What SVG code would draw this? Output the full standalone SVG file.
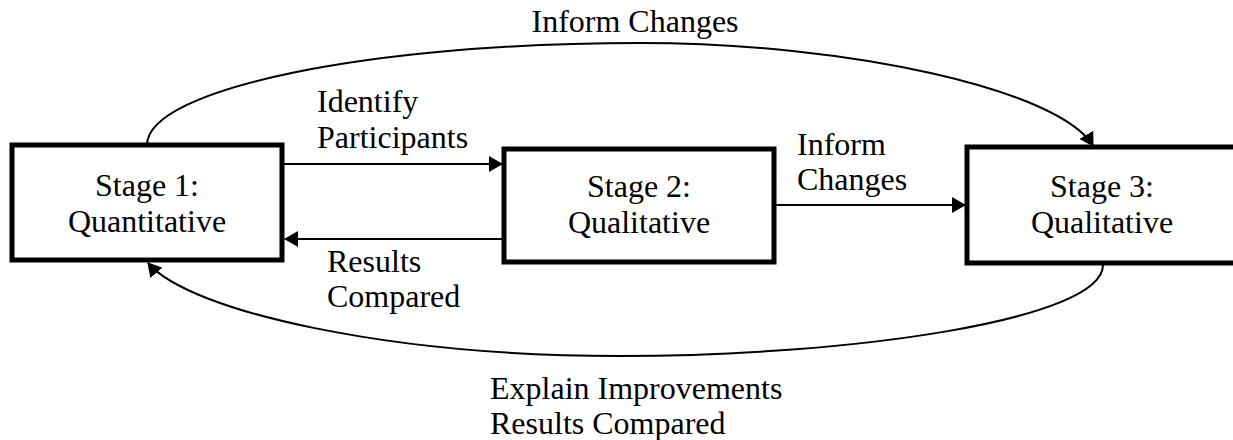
<svg xmlns="http://www.w3.org/2000/svg" width="1233" height="440" viewBox="0 0 1233 440">
  <style>
    .box { fill: #fff; stroke: #000; stroke-width: 5; }
    .conn { fill: none; stroke: #000; stroke-width: 2; }
    .lbl { font-family: "Liberation Serif", "Times New Roman", serif; font-size: 32px; fill: #000; }
    .mid { text-anchor: middle; }
  </style>
  <defs>
    <marker id="arrow" markerWidth="14" markerHeight="16" refX="13" refY="8" orient="auto" markerUnits="userSpaceOnUse">
      <path d="M0,0 L14,8 L0,16 Z" fill="#000"/>
    </marker>
  </defs>
  <rect width="1233" height="440" fill="#fff"/>

  <g id="connectors">
    <!-- Stage 1 -> Stage 2 -->
    <path class="conn" d="M284,164 H502" marker-end="url(#arrow)"/>
    <!-- Stage 2 -> Stage 1 -->
    <path class="conn" d="M502,239 H285" marker-end="url(#arrow)"/>
    <!-- Stage 2 -> Stage 3 -->
    <path class="conn" d="M776,205 H965" marker-end="url(#arrow)"/>
    <!-- Stage 1 -> Stage 3 over the top -->
    <path class="conn" d="M147,145 C147,89 368,43 640,43 C850,43 1060,90 1093,146" marker-end="url(#arrow)"/>
    <!-- Stage 3 -> Stage 1 underneath -->
    <path class="conn" d="M1103,265 C1103,320 850,356 620,356 C390,356 190,312 148,263" marker-end="url(#arrow)"/>
  </g>

  <g id="stage1">
    <rect class="box" x="12" y="145" width="270" height="115"/>
    <text class="lbl mid" x="147" y="196">Stage 1:</text>
    <text class="lbl mid" x="147" y="232">Quantitative</text>
  </g>

  <g id="stage2">
    <rect class="box" x="504" y="149" width="270" height="113"/>
    <text class="lbl mid" x="639" y="197">Stage 2:</text>
    <text class="lbl mid" x="639" y="233">Qualitative</text>
  </g>

  <g id="stage3">
    <rect class="box" x="967" y="147" width="272" height="116"/>
    <text class="lbl mid" x="1102" y="197">Stage 3:</text>
    <text class="lbl mid" x="1102" y="233">Qualitative</text>
  </g>

  <g id="labels">
    <text class="lbl mid" x="635" y="32">Inform Changes</text>
    <text class="lbl" x="317" y="112">Identify</text>
    <text class="lbl" x="317" y="148">Participants</text>
    <text class="lbl" x="797" y="155">Inform</text>
    <text class="lbl" x="797" y="190">Changes</text>
    <text class="lbl" x="327" y="272">Results</text>
    <text class="lbl" x="327" y="307">Compared</text>
    <text class="lbl" x="490" y="399">Explain Improvements</text>
    <text class="lbl" x="490" y="434">Results Compared</text>
  </g>
</svg>
